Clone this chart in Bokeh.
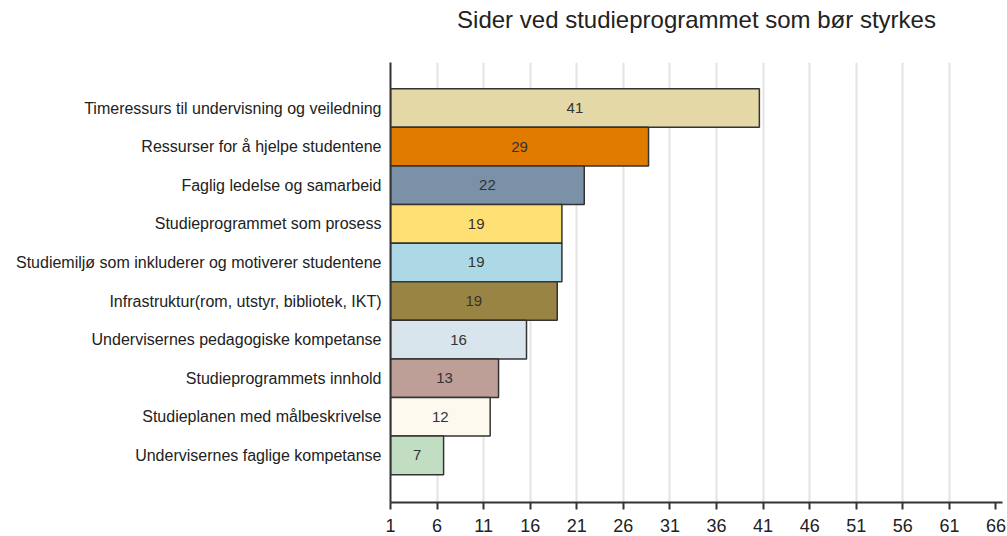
from bokeh.plotting import figure
from bokeh.models import ColumnDataSource, FixedTicker, Title
from bokeh.core.properties import value
from bokeh.embed import file_html
from bokeh.resources import INLINE

categories = [
    "Timeressurs til undervisning og veiledning",
    "Ressurser for å hjelpe studentene",
    "Faglig ledelse og samarbeid",
    "Studieprogrammet som prosess",
    "Studiemiljø som inkluderer og motiverer studentene",
    "Infrastruktur(rom, utstyr, bibliotek, IKT)",
    "Undervisernes pedagogiske kompetanse",
    "Studieprogrammets innhold",
    "Studieplanen med målbeskrivelse",
    "Undervisernes faglige kompetanse",
]
values = [40.6, 28.7, 21.8, 19.4, 19.4, 18.9, 15.6, 12.6, 11.7, 6.7]
labels = ["41", "29", "22", "19", "19", "19", "16", "13", "12", "7"]
colors = ["#E4D9A6", "#E07B00", "#7A91A8", "#FEE074", "#ADD8E6",
          "#9A8444", "#D9E5EC", "#BD9F98", "#FEF9EE", "#C2DEC2"]
x_ticks = [1, 6, 11, 16, 21, 26, 31, 36, 41, 46, 51, 56, 61, 66]
title_text = "Sider ved studieprogrammet som bør styrkes"

FONT = "Liberation Sans"
n = len(categories)
ypos = [n - i for i in range(n)]
src = ColumnDataSource(dict(
    y=ypos, right=values, color=colors, label=labels,
    mid=[(1 + v) / 2 for v in values],
))

X0, X1 = 1, 66.7
Y0, Y1 = -0.22, 11.18
p = figure(width=1007, height=536, output_backend="svg", toolbar_location=None,
           x_range=(X0, X1), y_range=(Y0, Y1),
           min_border_left=390, min_border_right=5, min_border_top=62,
           min_border_bottom=34)
p.outline_line_color = None

# real title, with a blank spacer title between it and the plot area
p.title = Title(text=title_text, align="center", text_font=FONT,
                text_font_size="24px", text_font_style="normal",
                text_color="#222222", standoff=0)
p.add_layout(Title(text=" ", text_font=FONT, text_font_size="25px",
                   standoff=0), "above")

p.hbar(y="y", left=1, right="right", height=1.0, source=src,
       fill_color="color", line_color="#333333", line_width=1.5)
p.text(x="mid", y="y", text="label", source=src, text_align="center",
       text_baseline="middle", text_font=value(FONT), text_font_size="15px",
       text_color="#333333")

p.ygrid.grid_line_color = None
p.xgrid.ticker = FixedTicker(ticks=x_ticks[1:-1])
p.xgrid.grid_line_color = "#e3e3e3"
p.xgrid.grid_line_width = 2

p.xaxis.ticker = FixedTicker(ticks=x_ticks)
p.xaxis.axis_line_color = "#333333"
p.xaxis.axis_line_width = 2
p.xaxis.major_tick_line_color = "#333333"
p.xaxis.major_tick_line_width = 2
p.xaxis.major_tick_out = 7
p.xaxis.major_tick_in = 0
p.xaxis.minor_tick_line_color = None
p.xaxis.major_label_text_font = FONT
p.xaxis.major_label_text_font_size = "18px"
p.xaxis.major_label_text_color = "#222222"
p.xaxis.major_label_standoff = 9

p.yaxis.ticker = FixedTicker(ticks=ypos)
p.yaxis.major_label_overrides = {y: c for y, c in zip(ypos, categories)}
p.yaxis.axis_line_color = "#333333"
p.yaxis.axis_line_width = 2
p.yaxis.major_tick_line_color = None
p.yaxis.minor_tick_line_color = None
p.yaxis.major_tick_out = 0
p.yaxis.major_tick_in = 0
p.yaxis.major_label_standoff = 9
p.yaxis.major_label_text_font = FONT
p.yaxis.major_label_text_font_size = "16px"
p.yaxis.major_label_text_color = "#222222"

open("out.html", "w").write(file_html(p, INLINE))
